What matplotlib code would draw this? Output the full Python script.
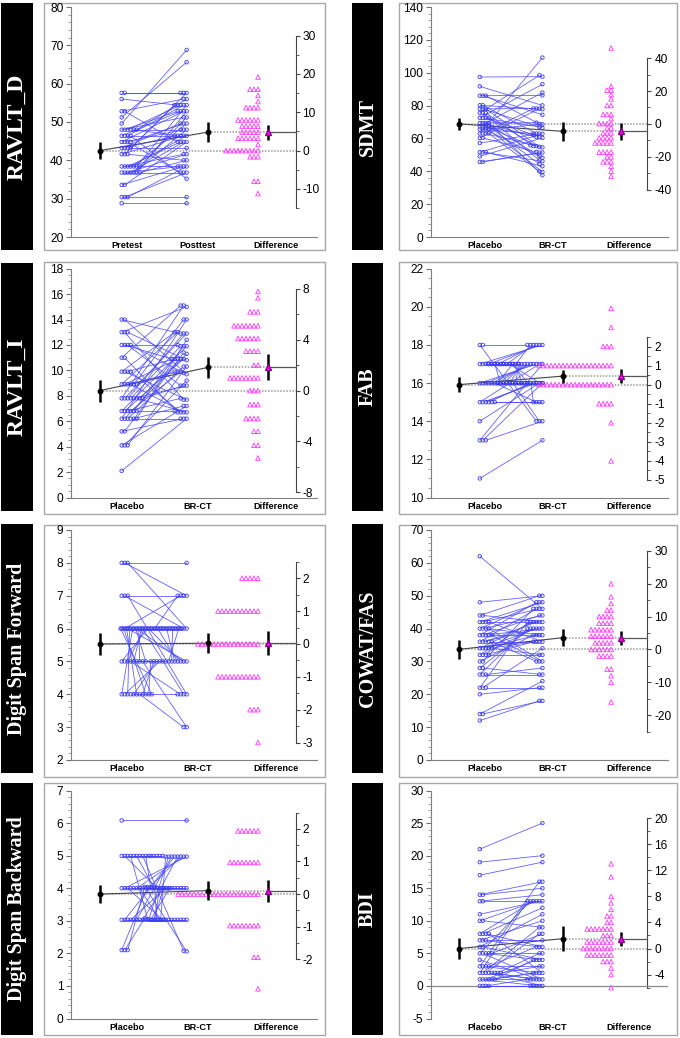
import numpy as np
import matplotlib
matplotlib.use("Agg")
import matplotlib.pyplot as plt
from matplotlib.patches import Rectangle
from matplotlib.collections import LineCollection
from matplotlib.ticker import MultipleLocator, FixedLocator

plt.rcParams['font.family'] = ['Liberation Sans', 'DejaVu Sans']
plt.rcParams['axes.unicode_minus'] = False

# ------------------------------------------------------------------ data
LABELS_PREPOST = ["Pretest", "Posttest", "Difference"]
LABELS_TRIAL = ["Placebo", "BR-CT", "Difference"]

RAVLT_D_PRE = [28.8, 30.4, 30.4, 30.4, 33.6, 33.6,
               36.8, 36.8, 36.8, 36.8, 36.8, 36.8, 36.8,
               38.4, 38.4, 38.4, 38.4, 38.4, 38.4, 38.4,
               41.6, 41.6, 41.6,
               43.2, 43.2, 43.2, 43.2,
               44.8, 44.8, 44.8, 44.8,
               46.4, 46.4, 46.4, 46.4,
               48.0, 48.0, 48.0, 48.0, 48.0, 48.0,
               49.6, 51.2, 52.8, 52.8, 56.0, 57.6, 57.6]
RAVLT_D_DIFF = [0.0, 0.0, 6.4, 8.0, 4.8, 11.2,
                0.0, 1.6, 4.8, 8.0, 11.2, 16.0, 3.2,
                0.0, 3.2, 6.4, 8.0, 11.2, 16.0, 12.8,
                4.8, 16.0, -1.6,
                6.4, 3.2, 0.0, 11.2,
                8.0, 3.2, -8.0, 4.8,
                6.4, 0.0, 8.0, -11.2,
                3.2, 4.8, 6.4, 0.0, -1.6, 8.0,
                19.2, 14.4, 3.2, -8.0, -1.6, 0.0, 0.0]

SDMT_PRE = [97.4, 91.7, 86.0, 86.0, 86.0, 80.2, 80.2, 78.0, 78.0, 78.0,
            75.5, 75.5, 75.5, 72.5, 72.5, 72.5, 72.5,
            69.4, 69.4, 69.4, 69.4, 67.4, 67.4, 67.4, 67.4,
            65.4, 65.4, 65.4, 65.4, 63.0, 63.0, 63.0, 63.0,
            60.3, 60.3, 57.2, 51.6, 51.6, 51.6, 49.1, 45.7, 45.7]
SDMT_DIFF = [0.2, -11.6, 0.2, -11.6, -17.2, -2.4, -17.2, 0.2, -11.6, -23.1,
             22.9, -28.8, -20.1, 20.5, -5.5, -11.6, -17.2,
             0.2, -8.5, -20.1, -31.8, 20.5, -5.5, -11.6, -23.1,
             3.2, -2.4, -17.2, -25.8, 46.2, 15.2, -8.5, -23.1,
             17.8, -8.5, 5.7, 11.2, -5.5, -8.5, 11.2, 5.7, 5.7]

RAVLT_I_PRE = [2.1, 4.1, 4.1, 4.1, 5.2, 5.2,
               6.2, 6.2, 6.2, 6.2, 6.2, 6.2,
               6.8, 6.8, 6.8, 6.8, 6.8, 6.8,
               7.8, 7.8, 7.8, 7.8, 7.8, 7.8, 7.8, 7.8,
               8.9, 8.9, 8.9, 8.9, 8.9, 8.9,
               9.9, 9.9, 9.9, 9.9,
               11.0, 11.0,
               12.0, 12.0, 12.0, 12.0,
               13.0, 13.0, 13.0,
               14.0, 14.0]
RAVLT_I_DIFF = [4.1, 3.1, 5.1, 6.2, 1.0, 6.2,
                7.8, 5.1, 4.1, 0.0, 1.0, 6.2,
                5.1, 4.1, 1.0, 3.1, 5.1, 0.0,
                7.3, 5.1, 5.1, 4.1, 1.0, -1.1, 3.1, 1.0,
                4.1, 2.0, 1.0, -2.2, 5.1, 1.0,
                3.1, -2.2, 1.0, -3.2,
                4.1, -4.3,
                0.0, -1.1, -3.2, -2.2,
                2.0, -5.3, -2.2,
                -1.1, -4.3]

FAB_PRE = [11, 13, 13, 13, 14, 15, 15, 15, 15, 15, 15,
           16, 16, 16, 16, 16, 16, 16, 16, 16, 16, 16,
           16, 16, 16, 16, 16, 16, 16, 16, 16, 16, 16,
           17, 17, 17, 17, 17, 17, 17, 17, 17, 17, 17, 17, 17, 17,
           18, 18]
FAB_DIFF = [2, 4, 3, 1, 2, 2, 1, 1, 1, 0, 0,
            1, 0, 1, 0, 1, -1, 1, 0, 1, 0, 1,
            -2, 1, 0, 1, 0, 1, -1, 0, 0, 1, 0,
            1, 0, 0, 1, 0, -1, 1, 0, 0, 1, 0, -1, 1, 0,
            -4, 0]

DSF_PRE = [8, 8, 8, 7, 7, 7,
           6, 6, 6, 6, 6, 6, 6, 6, 6, 6, 6, 6, 6, 6, 6, 6, 6, 6, 6, 6, 6,
           5, 5, 5, 5, 5, 5, 5, 5, 5,
           4, 4, 4, 4, 4, 4, 4, 4, 4, 4, 4]
DSF_DIFF = [0, -1, -2, 0, -1, -3,
            0, 1, -1, 0, 0, -1, 0, -2, 0, -1, 0, 1, -1, 0, 0, -1, 0, -1, 0, -1, 0,
            1, 0, 1, -1, 1, 0, 1, -2, 1,
            2, 1, 2, 0, 1, 2, -1, 1, 2, 1, 2]

COWAT_PRE = [62, 48, 44, 44, 42, 42, 42, 42, 40, 40, 40, 40,
             38, 38, 38, 38, 38, 36, 36, 36, 36, 36,
             34, 34, 34, 34, 34, 32, 32, 32, 32,
             30, 30, 28, 28, 26, 26, 26, 22, 22, 22, 20, 14, 14, 12]
COWAT_DIFF = [-16, 2, 6, -2, 6, 4, 0, -6, 8, 4, -2, -10,
              10, 6, 2, 0, -8, 10, 4, 6, 0, -6,
              8, 6, 4, 2, -2, 10, 8, 4, 0,
              8, 16, 12, -2, 14, 0, 2, 20, 12, 0, 2, 10, 4, 6]

DSB_PRE = [6.08,
           4.99, 4.99, 4.99, 4.99, 4.99, 4.99, 4.99, 4.99, 4.99, 4.99,
           4.0, 4.0, 4.0, 4.0, 4.0, 4.0, 4.0, 4.0, 4.0, 4.0, 4.0, 4.0, 4.0, 4.0, 4.0, 4.0, 4.0,
           3.03, 3.03, 3.03, 3.03, 3.03, 3.03, 3.03, 3.03, 3.03, 3.03, 3.03, 3.03, 3.03, 3.03, 3.03,
           2.1, 2.1, 2.1]
DSB_DIFF = [0.0,
            0.0, -0.97, 0.0, -1.94, 0.0, -0.97, 0.0, -2.91, -0.97, 0.0,
            0.0, 0.97, -0.97, 0.0, 0.0, 0.97, -0.97, 0.0, -1.94, 0.97, 0.0, -0.97, 0.0, 0.97, -0.97, 0.0, -0.97,
            0.0, 1.94, 0.0, 0.97, 0.0, 1.94, 0.0, 0.97, 0.0, 1.94, 0.0, 0.97, 0.0, 1.94, 0.0,
            1.94, 0.97, 1.94]

BDI_PRE = [21, 19, 17, 14, 14, 13, 13, 11, 10, 10,
           8, 8, 8, 8, 7, 7, 7, 6, 6, 5, 5, 5, 5, 5, 4,
           3, 3, 3, 3, 2, 2, 2, 2, 2, 2, 2, 2,
           1, 1, 1, 1, 1, 1, 0, 0, 0, 0]
BDI_DIFF = [4, 1, 2, 2, 1, 1, 0, 2, 3, -1,
            5, 4, -2, -6, 3, -1, 0, 5, -2, 8, -4, -1, 0, 3, -3,
            13, -1, 0, 3, 11, 7, 6, -2, -1, -1, 3, 1,
            -1, 0, 3, 1, 1, 3, 0, 0, 1, 0]

# ------------------------------------------------------------------ panel config
PANELS = [
    dict(title="RAVLT_D", pre=RAVLT_D_PRE, diff=RAVLT_D_DIFF, labels=LABELS_PREPOST, col=0, row=0,
         ylim=(20, 80), major=10, minor=2, rticks=[-10, 0, 10, 20, 30], rminor=5, rspan=(-15, 30),
         tsize=17),
    dict(title="SDMT", pre=SDMT_PRE, diff=SDMT_DIFF, labels=LABELS_TRIAL, col=1, row=0,
         ylim=(0, 140), major=20, minor=4, rticks=[-40, -20, 0, 20, 40], rminor=10, rspan=(-40, 40)),
    dict(title="RAVLT_I", pre=RAVLT_I_PRE, diff=RAVLT_I_DIFF, labels=LABELS_TRIAL, col=0, row=1,
         ylim=(0, 18), major=2, minor=0.5, rticks=[-8, -4, 0, 4, 8], rminor=2, rspan=(-8, 8),
         tsize=17),
    dict(title="FAB", pre=FAB_PRE, diff=FAB_DIFF, labels=LABELS_TRIAL, col=1, row=1,
         ylim=(10, 22), major=2, minor=0.5, rticks=[-5, -4, -3, -2, -1, 0, 1, 2], rminor=0.5, rspan=(-5, 2.5)),
    dict(title="Digit Span Forward", pre=DSF_PRE, diff=DSF_DIFF, labels=LABELS_TRIAL, col=0, row=2,
         ylim=(2, 9), major=1, minor=0.2, rticks=[-3, -2, -1, 0, 1, 2], rminor=0.5, rspan=(-3, 2.5)),
    dict(title="COWAT/FAS", pre=COWAT_PRE, diff=COWAT_DIFF, labels=LABELS_TRIAL, col=1, row=2,
         ylim=(0, 70), major=10, minor=2, rticks=[-20, -10, 0, 10, 20, 30], rminor=5, rspan=(-25, 30)),
    dict(title="Digit Span Backward", pre=DSB_PRE, diff=DSB_DIFF, labels=LABELS_TRIAL, col=0, row=3,
         ylim=(0, 7), major=1, minor=0.2, rticks=[-2, -1, 0, 1, 2], rminor=0.5, rspan=(-2, 2.5)),
    dict(title="BDI", pre=BDI_PRE, diff=BDI_DIFF, labels=LABELS_TRIAL, col=1, row=3,
         ylim=(-5, 30), major=5, minor=1, rticks=[-4, 0, 4, 8, 12, 16, 20], rminor=2, rspan=(-6, 20),
         zero_axis=True),
]

# ------------------------------------------------------------------ layout (pixels)
W, H = 680, 1038
COLS = [dict(ax=(71, 317), box=(1, 33), border=(44, 325)),
        dict(ax=(431, 668), box=(352, 383), border=(399, 677))]
ROWS = [dict(ax=(7, 237), box=(3, 250), border=(3, 250)),
        dict(ax=(268.7, 497.5), box=(263, 511), border=(262, 514)),
        dict(ax=(530, 760), box=(524, 773), border=(525, 777)),
        dict(ax=(790.5, 1018.5), box=(783, 1035), border=(783, 1035))]

X_PRE_MEAN, X_PRE_START = 0.117, 0.206
X_POST_END, X_POST_MEAN = 0.47, 0.557
X_DIFF_END, X_DIFF_MEAN = 0.76, 0.80
X_RAXIS = 0.913
X_LABELS = [0.228, 0.515, 0.834]
CIRCLE_PITCH, TRI_PITCH = 3.0, 4.0
CI_Z = 2.1

LINE_BLUE = (0.28, 0.28, 1.0, 0.85)
CIRCLE_BLUE = '#3c3cf0'
MAGENTA = '#ff3cff'


def stack(vals, tol):
    vals = np.asarray(vals, float)
    order = np.argsort(vals, kind='stable')
    offs = np.zeros(len(vals))
    anchor, k = None, 0
    for idx in order:
        v = vals[idx]
        if anchor is not None and abs(v - anchor) <= tol:
            k += 1
        else:
            anchor, k = v, 0
        offs[idx] = k
    return offs


fig = plt.figure(figsize=(W / 100, H / 100), dpi=100)
fig.patch.set_facecolor('white')

for p in PANELS:
    c, r = COLS[p['col']], ROWS[p['row']]
    # black label box
    bx0, bx1 = c['box']
    by0, by1 = r['box']
    fig.add_artist(Rectangle((bx0 / W, 1 - by1 / H), (bx1 - bx0) / W, (by1 - by0) / H,
                             transform=fig.transFigure, facecolor='black', edgecolor='none', zorder=0))
    fig.text((bx0 + bx1) / 2 / W, 1 - (by0 + by1) / 2 / H, p['title'], rotation=90, color='white',
             ha='center', va='center', family=['Liberation Serif', 'DejaVu Serif'], weight='bold',
             size=p.get('tsize', 14.5))
    # panel border
    gx0, gx1 = c['border']
    gy0, gy1 = r['border']
    fig.add_artist(Rectangle((gx0 / W, 1 - gy1 / H), (gx1 - gx0) / W, (gy1 - gy0) / H,
                             transform=fig.transFigure, fill=False, edgecolor='#a8a8a8', lw=1.0, zorder=0))

    x0, x1 = c['ax']
    yt, yb = r['ax']
    axw = x1 - x0
    ax = fig.add_axes([x0 / W, 1 - yb / H, axw / W, (yb - yt) / H])
    ax.patch.set_alpha(0)
    ax.set_xlim(0, 1)
    ax.set_ylim(*p['ylim'])

    pre = np.asarray(p['pre'], float)
    diff = np.asarray(p['diff'], float)
    post = pre + diff
    n = len(pre)
    m0, m1, md = pre.mean(), post.mean(), diff.mean()
    ci0 = CI_Z * pre.std(ddof=1) / np.sqrt(n)
    ci1 = CI_Z * post.std(ddof=1) / np.sqrt(n)
    cid = CI_Z * diff.std(ddof=1) / np.sqrt(n)

    tol = 0.012 * (p['ylim'][1] - p['ylim'][0])
    pre_x = X_PRE_START + stack(pre, tol) * CIRCLE_PITCH / axw
    post_x = X_POST_END - stack(post, tol) * CIRCLE_PITCH / axw
    diff_x = X_DIFF_END - stack(diff, tol) * TRI_PITCH / axw

    # reference lines
    ax.plot([X_PRE_MEAN, X_RAXIS], [m0, m0], color='#9a9a9a', lw=1.1, ls=(0, (1, 1)), zorder=1)
    ax.plot([X_POST_MEAN, X_DIFF_MEAN], [m1, m1], color='#9a9a9a', lw=1.1, ls=(0, (1, 1)), zorder=1)
    ax.plot([X_DIFF_MEAN, X_RAXIS], [m0 + md, m0 + md], color='#555555', lw=0.9, zorder=1)
    ax.plot([X_PRE_MEAN, X_POST_MEAN], [m0, m1], color='#444444', lw=0.8, zorder=1)

    segs = [[(pre_x[i], pre[i]), (post_x[i], post[i])] for i in range(n)]
    ax.add_collection(LineCollection(segs, colors=[LINE_BLUE], linewidths=0.6, zorder=2))
    ax.scatter(np.r_[pre_x, post_x], np.r_[pre, post], s=6.5, facecolors='none',
               edgecolors=CIRCLE_BLUE, linewidths=0.6, zorder=3)
    ax.scatter(diff_x, m0 + diff, marker='^', s=11, facecolors='none',
               edgecolors=MAGENTA, linewidths=0.6, zorder=3)

    ax.errorbar([X_PRE_MEAN], [m0], yerr=[ci0], fmt='o', color='black', ms=3.2,
                elinewidth=1.8, capsize=0, zorder=4)
    ax.errorbar([X_POST_MEAN], [m1], yerr=[ci1], fmt='o', color='black', ms=3.2,
                elinewidth=1.8, capsize=0, zorder=4)
    ax.errorbar([X_DIFF_MEAN], [m0 + md], yerr=[cid], fmt='^', mfc='#ff00ff', mec='#880088',
                ecolor='black', ms=5, elinewidth=1.8, capsize=0, zorder=4)

    # axes styling
    for s in ('top', 'right'):
        ax.spines[s].set_visible(False)
    ax.spines['left'].set_color('#808080')
    ax.spines['left'].set_linewidth(0.8)
    if p.get('zero_axis'):
        ax.spines['bottom'].set_visible(False)
        ax.axhline(0, color='#8a8a8a', lw=0.9, zorder=1)
    else:
        ax.spines['bottom'].set_color('#808080')
        ax.spines['bottom'].set_linewidth(0.8)
    ax.yaxis.set_major_locator(MultipleLocator(p['major']))
    ax.yaxis.set_minor_locator(MultipleLocator(p['minor']))
    ax.tick_params(axis='y', which='major', length=3.5, width=0.8, color='#707070', labelsize=8.6, pad=2)
    ax.tick_params(axis='y', which='minor', length=2, width=0.6, color='#909090')
    ax.set_xticks(X_LABELS)
    ax.set_xticklabels(p['labels'], fontweight='bold', fontsize=6.6)
    ax.tick_params(axis='x', length=0, pad=3)

    # right (difference) axis aligned at the pre-group mean
    sec = ax.secondary_yaxis(X_RAXIS, functions=(lambda y, m=m0: y - m, lambda d, m=m0: d + m))
    lo, hi = p['rspan']
    sec.yaxis.set_major_locator(FixedLocator(p['rticks']))
    sec.yaxis.set_minor_locator(FixedLocator(np.arange(lo, hi + 1e-9, p['rminor'])))
    sec.spines['right'].set_bounds(lo, hi)
    sec.spines['right'].set_color('#444444')
    sec.spines['right'].set_linewidth(0.8)
    sec.tick_params(axis='y', which='major', length=3, width=0.8, color='#444444', labelsize=8.6, pad=2)
    sec.tick_params(axis='y', which='minor', length=2, width=0.6, color='#444444')

fig.savefig('out.png', dpi=100, facecolor='white')
